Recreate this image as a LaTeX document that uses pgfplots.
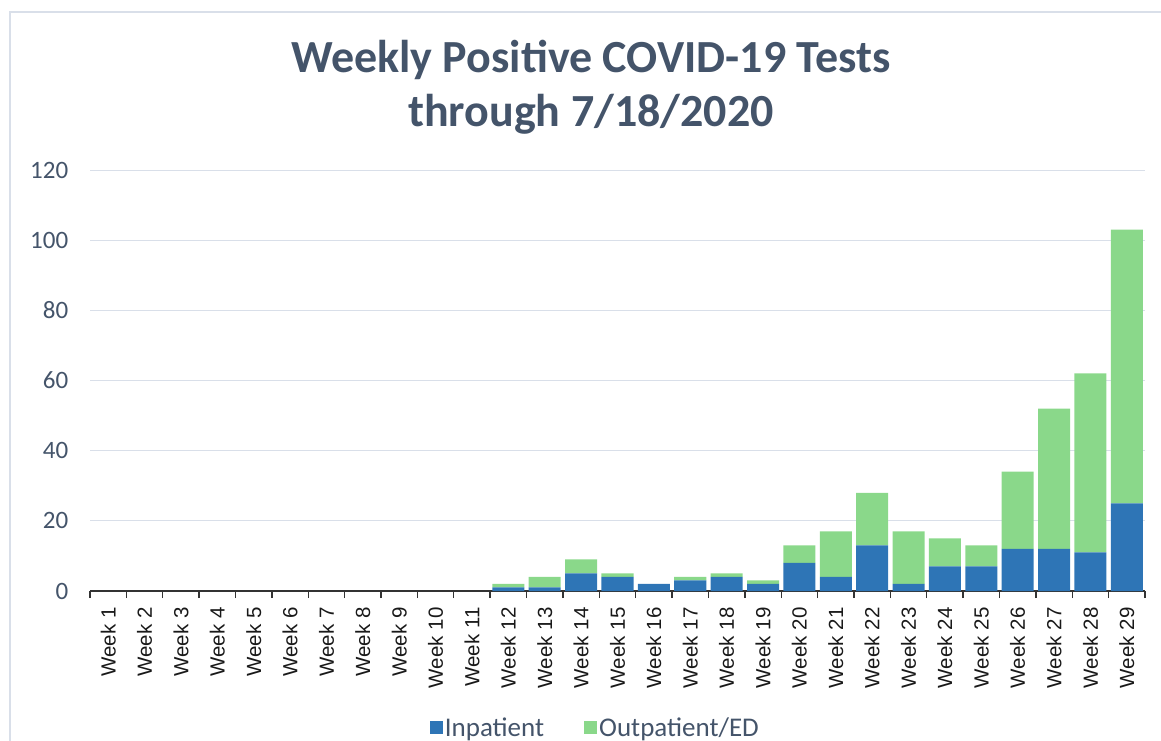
\documentclass[border=0pt]{standalone}
\usepackage{fontspec}
\setmainfont{Carlito}
\newfontfamily\arial{Liberation Sans}
\usepackage{pgfplots}
\pgfplotsset{compat=1.18}
\definecolor{inp}{RGB}{46,117,182}
\definecolor{outp}{RGB}{138,216,138}
\definecolor{txt}{RGB}{68,84,106}
\definecolor{gridc}{RGB}{217,223,233}
\begin{document}
\begin{tikzpicture}[x=1pt,y=1pt]
\useasboundingbox (0pt,0pt) rectangle (1161pt,740pt);
\draw[color=gridc, line width=1.2pt] (10pt,-20pt) rectangle (1190pt,728pt);
\node[align=center, font=\bfseries\fontsize{46}{54}\selectfont, text=txt, anchor=base] at (591pt,613pt) {Weekly Positive COVID-19 Tests\\through 7/18/2020};
\begin{axis}[
  at={(90pt,149pt)}, anchor=south west,
  scale only axis, width=1055pt, height=421pt,
  xmin=0.5, xmax=29.5, ymin=0, ymax=120,
  ybar stacked, bar width=0.88,
  axis x line*=bottom, axis y line*=left,
  y axis line style={draw=none},
  x axis line style={draw=black!80, line width=1.4pt, -},
  ytick={0,20,...,120},
  /pgf/number format/assume math mode=true,
  ymajorgrids, grid style={gridc, line width=1pt},
  major y tick style={draw=none},
  yticklabel style={font=\fontsize{25}{25}\selectfont, text=txt, xshift=-14pt},
  xtick={1,...,29},
  xticklabels={Week 1,Week 2,Week 3,Week 4,Week 5,Week 6,Week 7,Week 8,Week 9,Week 10,Week 11,Week 12,Week 13,Week 14,Week 15,Week 16,Week 17,Week 18,Week 19,Week 20,Week 21,Week 22,Week 23,Week 24,Week 25,Week 26,Week 27,Week 28,Week 29},
  x tick label style={yshift=-12pt, rotate=90, anchor=east, inner sep=0pt, font=\arial\fontsize{20.5}{20.5}\selectfont, text=black!90},
  major x tick style={draw=none},
  minor xtick={0.5,1.5,...,29.5},
  minor x tick style={draw=black!80, line width=1.4pt},
  minor tick length=7pt,
  tick align=outside,
  legend style={at={(0.479,-0.325)}, anchor=center, draw=none, fill=none,
    font=\fontsize{27}{27}\selectfont, text=txt, legend columns=2,
    /tikz/every even column/.append style={column sep=38pt}},
  legend image code/.code={\fill[#1] (0pt,-6pt) rectangle (13pt,7pt);},
]
\addplot[fill=inp, draw=none] coordinates {
(1,0)(2,0)(3,0)(4,0)(5,0)(6,0)(7,0)(8,0)(9,0)(10,0)(11,0)
(12,1)(13,1)(14,5)(15,4)(16,2)(17,3)(18,4)(19,2)(20,8)(21,4)(22,13)(23,2)(24,7)(25,7)(26,12)(27,12)(28,11)(29,25)};
\addlegendentry{Inpatient}
\addplot[fill=outp, draw=none] coordinates {
(1,0)(2,0)(3,0)(4,0)(5,0)(6,0)(7,0)(8,0)(9,0)(10,0)(11,0)
(12,1)(13,3)(14,4)(15,1)(16,0)(17,1)(18,1)(19,1)(20,5)(21,13)(22,15)(23,15)(24,8)(25,6)(26,22)(27,40)(28,51)(29,78)};
\addlegendentry{Outpatient/ED}
\end{axis}
\end{tikzpicture}
\end{document}
